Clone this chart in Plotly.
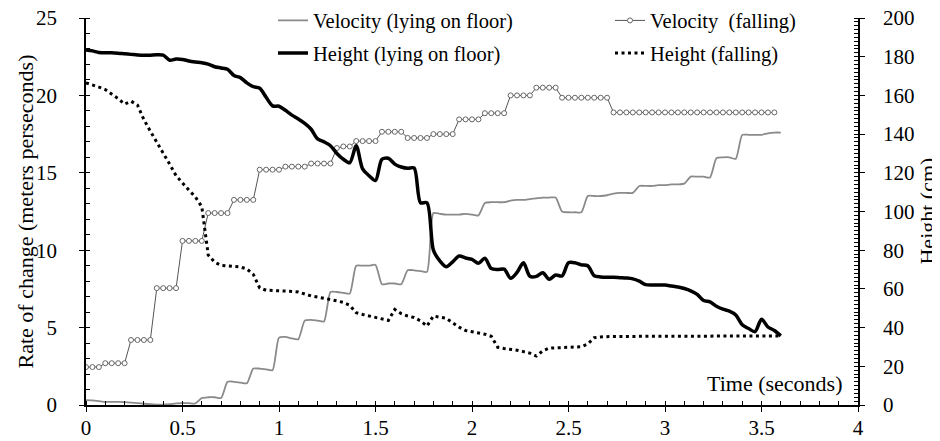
import plotly.graph_objects as go

FPS = 30  # frames per second of the sampled data

# Rate of change (m/s), left axis
velocity_lying = [
    0.32, 0.30, 0.25, 0.20, 0.20, 0.20, 0.18, 0.15, 0.12, 0.08,
    0.05, 0.03, 0.02, 0.05, 0.10, 0.12, 0.12, 0.10, 0.45, 0.50,
    0.50, 0.45, 1.50, 1.50, 1.45, 1.40, 2.35, 2.35, 2.30, 2.25,
    4.35, 4.40, 4.30, 4.25, 5.45, 5.50, 5.45, 5.40, 7.30, 7.30,
    7.25, 7.20, 9.00, 9.00, 9.00, 9.05, 7.80, 7.85, 7.85, 7.80,
    8.70, 8.70, 8.65, 8.60, 12.40, 12.35, 12.30, 12.30, 12.30, 12.35,
    12.30, 12.25, 13.05, 13.10, 13.10, 13.10, 13.20, 13.25, 13.25, 13.30,
    13.35, 13.40, 13.40, 13.40, 12.50, 12.45, 12.45, 12.45, 13.50, 13.50,
    13.50, 13.55, 13.65, 13.70, 13.70, 13.70, 14.15, 14.15, 14.15, 14.20,
    14.20, 14.25, 14.25, 14.30, 14.75, 14.75, 14.75, 14.70, 15.95, 16.00,
    16.00, 15.90, 17.45, 17.45, 17.45, 17.45, 17.55, 17.60, 17.60,
]

velocity_falling = [
    2.45, 2.45, 2.45, 2.70, 2.70, 2.70, 2.70, 4.20, 4.20, 4.20,
    4.20, 7.55, 7.55, 7.55, 7.55, 10.60, 10.60, 10.60, 10.60, 12.40,
    12.40, 12.40, 12.40, 13.25, 13.25, 13.25, 13.25, 15.20, 15.20, 15.20,
    15.20, 15.40, 15.40, 15.40, 15.40, 15.60, 15.60, 15.60, 15.60, 16.60,
    16.70, 16.70, 17.05, 17.05, 17.05, 17.05, 17.65, 17.65, 17.65, 17.65,
    17.25, 17.25, 17.25, 17.25, 17.50, 17.50, 17.50, 17.50, 18.45, 18.45,
    18.45, 18.45, 18.85, 18.85, 18.85, 18.85, 20.00, 20.00, 20.00, 20.00,
    20.50, 20.50, 20.50, 20.50, 19.85, 19.85, 19.85, 19.85, 19.85, 19.85,
    19.85, 19.85, 18.90, 18.90, 18.90, 18.90, 18.90, 18.90, 18.90, 18.90,
    18.90, 18.90, 18.90, 18.90, 18.90, 18.90, 18.90, 18.90, 18.90, 18.90,
    18.90, 18.90, 18.90, 18.90, 18.90, 18.90, 18.90, 18.90,
]

# Height (cm), right axis
height_lying = [
    183.5, 183.0, 182.2, 182.0, 182.0, 181.8, 181.5, 181.2, 180.9, 180.7,
    180.8, 181.0, 180.8, 178.2, 178.8, 178.6, 177.8, 177.3, 176.9, 176.2,
    174.8, 174.2, 173.5, 170.3, 169.2, 166.5, 164.5, 163.7, 159.0, 154.6,
    154.4, 152.3, 149.8, 147.8, 145.5, 142.5, 137.5, 136.0, 134.0, 130.0,
    127.0, 125.2, 134.0, 122.0, 118.5, 116.0, 127.0, 127.5, 124.5, 123.0,
    122.3, 122.5, 104.5, 104.5, 80.0, 74.5, 71.5, 74.0, 77.0, 76.0,
    75.2, 73.2, 75.8, 70.5, 70.0, 70.2, 65.5, 68.5, 73.5, 66.5,
    66.5, 68.4, 65.0, 67.2, 66.7, 73.5, 73.5, 72.4, 72.0, 66.8,
    66.2, 66.0, 66.0, 65.8, 65.6, 65.2, 64.0, 62.2, 62.0, 62.0,
    62.0, 61.5, 61.0, 60.2, 59.0, 57.2, 54.0, 53.3, 51.0, 49.5,
    48.5, 46.5, 41.5, 39.5, 37.9, 44.3, 40.3, 38.5, 35.7,
]

height_falling = [
    166.5, 165.5, 164.3, 163.0, 160.8, 158.3, 155.5, 157.0, 155.0, 147.5,
    141.5, 136.0, 130.5, 124.5, 118.5, 114.5, 111.0, 107.5, 102.5, 77.5,
    73.8, 72.2, 72.0, 71.8, 71.3, 70.3, 67.5, 60.5, 59.3, 59.2,
    59.1, 58.8, 58.7, 58.4, 57.2, 56.4, 55.8, 55.0, 54.5, 53.8,
    53.0, 51.5, 47.7, 46.8, 46.0, 45.3, 44.5, 43.7, 49.4, 47.2,
    46.0, 45.2, 43.5, 40.8, 46.0, 45.5, 44.8, 42.5, 40.2, 38.5,
    37.8, 37.1, 36.6, 35.5, 29.8, 29.2, 28.8, 28.3, 27.6, 26.8,
    25.3, 28.0, 29.4, 29.6, 29.8, 29.9, 30.0, 30.1, 31.5, 34.8,
    35.2, 35.4, 35.4, 35.4, 35.5, 35.5, 35.5, 35.5, 35.5, 35.5,
    35.5, 35.5, 35.5, 35.5, 35.5, 35.5, 35.5, 35.5, 35.5, 35.6,
    35.6, 35.6, 35.6, 35.6, 35.6, 35.6, 35.7, 35.7, 35.7,
]

x_ticks = [0, 0.5, 1, 1.5, 2, 2.5, 3, 3.5, 4]
x_tick_labels = ["0", "0.5", "1", "1.5", "2", "2.5", "3", "3.5", "4"]


def times(series):
    return [i / FPS for i in range(len(series))]


FONT = "Liberation Serif"
TICK_FONT = dict(family=FONT, size=21, color="black")
TITLE_FONT = dict(family=FONT, size=22, color="black")
LEGEND_FONT = dict(family=FONT, size=20.5, color="black")

fig = go.Figure()

fig.add_trace(go.Scatter(
    x=times(velocity_lying), y=velocity_lying, name="Velocity (lying on floor)",
    mode="lines", line=dict(color="#8a8a8a", width=1.8, shape="spline", smoothing=0.6),
    legend="legend", legendgroup="a", xaxis="x", yaxis="y",
))
fig.add_trace(go.Scatter(
    x=times(height_lying), y=height_lying, name="Height (lying on floor)",
    mode="lines", line=dict(color="black", width=3.5, shape="spline", smoothing=0.8),
    legend="legend", legendgroup="b", xaxis="x", yaxis="y2",
))
fig.add_trace(go.Scatter(
    x=times(velocity_falling), y=velocity_falling, name="Velocity  (falling)",
    mode="lines+markers", line=dict(color="#555555", width=1),
    marker=dict(symbol="circle", size=5, color="white", line=dict(color="#666666", width=1)),
    legend="legend2", legendgroup="c", xaxis="x", yaxis="y",
))
fig.add_trace(go.Scatter(
    x=times(height_falling), y=height_falling, name="Height (falling)",
    mode="lines", line=dict(color="black", width=3, dash="3px,3.5px"),
    legend="legend2", legendgroup="d", xaxis="x", yaxis="y2",
))

# axis titles
fig.add_annotation(
    x=3.93, y=1.42, xref="x", yref="y", text="Time (seconds)", showarrow=False,
    xanchor="right", yanchor="middle", font=TITLE_FONT,
)
fig.add_annotation(
    x=-0.079, y=0.5, xref="paper", yref="paper", text="Rate of change (meters perseconds)",
    showarrow=False, textangle=-90, xanchor="center", yanchor="middle", font=TITLE_FONT,
)
fig.add_annotation(
    x=1.0894, y=0.5, xref="paper", yref="paper", text="Height (cm)",
    showarrow=False, textangle=-90, xanchor="center", yanchor="middle", font=TITLE_FONT,
)

axis_common = dict(
    showline=True, linecolor="black", linewidth=1.5, showgrid=False, zeroline=False,
    ticks="outside", ticklen=5, tickwidth=1.3, tickcolor="black",
    tickfont=TICK_FONT, automargin=False, ticklabeloverflow="allow",
)
# overlay axes that only add the inner half of the major ticks (crossing ticks)
inner_common = dict(
    showline=False, showgrid=False, zeroline=False, showticklabels=False,
    ticks="inside", ticklen=5, tickwidth=1.3, tickcolor="black", automargin=False,
)

# page body has an 8px default margin, so the figure is sized to fit the 940x441 window
fig.update_layout(
    width=932, height=433,
    margin=dict(l=78, r=82, t=10, b=36, autoexpand=False),
    paper_bgcolor="white", plot_bgcolor="white",
    font=dict(family=FONT, size=20, color="black"),
    xaxis=dict(
        **axis_common, range=[0, 4], tickvals=x_ticks, ticktext=x_tick_labels,
        ticklabelstandoff=-2,
        minor=dict(dtick=0.1, ticks="inside", ticklen=4, tickwidth=1.2, tickcolor="black"),
    ),
    xaxis2=dict(**inner_common, range=[0, 4], tickvals=x_ticks, overlaying="x", anchor="y"),
    yaxis=dict(
        **axis_common, range=[0, 25], dtick=5, ticklabelstandoff=18, anchor="x",
        minor=dict(dtick=1, ticks="inside", ticklen=4, tickwidth=1.2, tickcolor="black"),
    ),
    yaxis2=dict(
        **axis_common, range=[0, 200], dtick=20, overlaying="y", side="right", anchor="x",
        ticklabelstandoff=14,
        minor=dict(dtick=2, ticks="inside", ticklen=4, tickwidth=1.2, tickcolor="black"),
    ),
    yaxis3=dict(**inner_common, range=[0, 25], dtick=5, overlaying="y", anchor="x", side="left"),
    yaxis4=dict(**inner_common, range=[0, 200], dtick=20, overlaying="y", anchor="x", side="right"),
    showlegend=True,
    legend=dict(
        x=(273 - 86) / 772, y=1.045, xanchor="left", yanchor="top",
        bgcolor="rgba(0,0,0,0)", tracegroupgap=3, font=LEGEND_FONT,
    ),
    legend2=dict(
        x=(610 - 86) / 772, y=1.045, xanchor="left", yanchor="top",
        bgcolor="rgba(0,0,0,0)", tracegroupgap=3, font=LEGEND_FONT,
    ),
)

fig.write_html("out.html")
